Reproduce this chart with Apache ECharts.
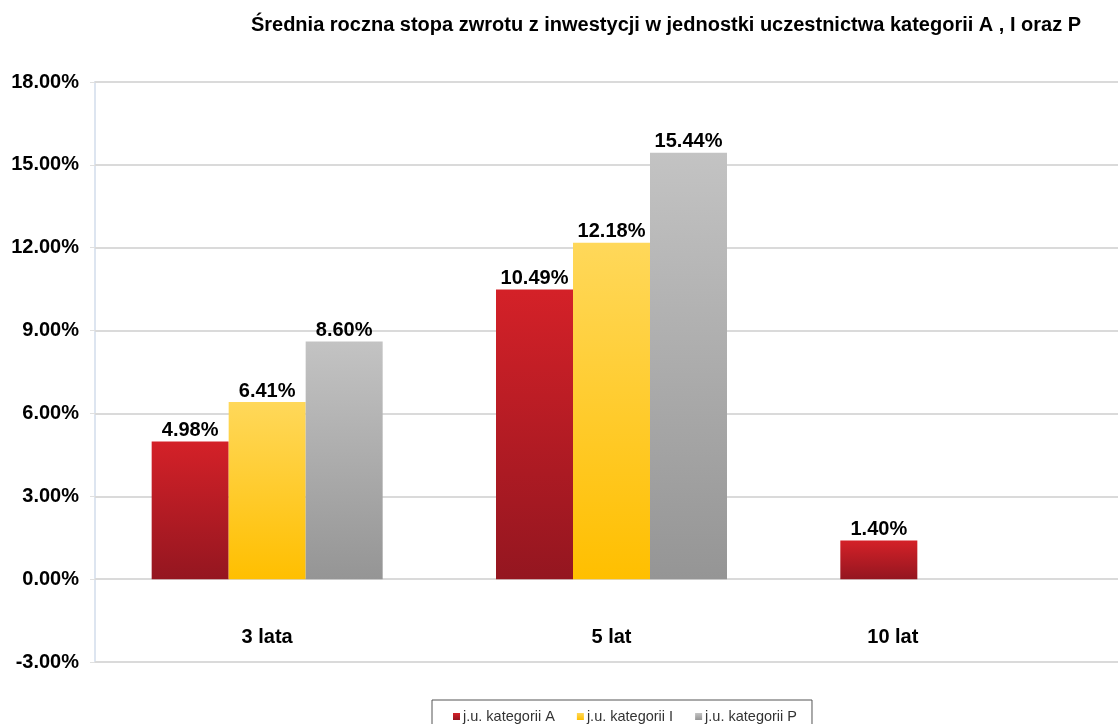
<!DOCTYPE html>
<html>
<head>
<meta charset="utf-8">
<script src="https://cdn.jsdelivr.net/npm/echarts@6/dist/echarts.min.js"></script>
<style>
  html, body { margin: 0; padding: 0; background: #fff; }
  #chart { width: 1118px; height: 724px; }
</style>
</head>
<body>
<div id="chart"></div>
<script>
// ── data ─────────────────────────────────────────────
const categories = ['3 lata', '5 lat', '10 lat']
const seriesNames = ['j.u. kategorii A', 'j.u. kategorii I', 'j.u. kategorii P']
const valuesA = [4.98, 10.49, 1.40]
const valuesI = [6.41, 12.18, null]
const valuesP = [8.60, 15.44, null]

const FONT = '"Liberation Sans", Arial, sans-serif'
const GRAD = [
  ['#d42128', '#941620'],
  ['#ffd85a', '#ffbf00'],
  ['#c3c3c3', '#959595'],
]

const chart = echarts.init(document.getElementById('chart'))

const grad = ([top, bottom]) => new echarts.graphic.LinearGradient(0, 0, 0, 1, [
  { offset: 0, color: top }, { offset: 1, color: bottom },
])

const makeSeries = (name, data, i) => ({
  name, type: 'bar', data,
  barWidth: 77, barGap: '0%',
  itemStyle: { color: grad(GRAD[i]) },
  label: {
    show: true, position: 'top', distance: 1,
    formatter: p => p.value.toFixed(2) + '%',
    color: '#000', fontFamily: FONT, fontWeight: 'bold', fontSize: 20,
  },
})

chart.setOption({
  animation: false,
  title: {
    text: 'Średnia roczna stopa zwrotu z inwestycji w jednostki uczestnictwa kategorii A , I oraz P',
    left: 661, top: 10, textAlign: 'center',
    textStyle: { fontFamily: FONT, fontWeight: 'bold', fontSize: 20, color: '#000' },
  },
  legend: {
    data: seriesNames,
    left: 432, top: 700,
    icon: 'rect', itemWidth: 7, itemHeight: 7, itemGap: 22,
    padding: [9, 15, 10, 21],
    borderColor: '#555', borderWidth: 1,
    textStyle: { fontFamily: FONT, fontSize: 14.5, color: '#333', padding: [0, 0, 0, -2] },
  },
  color: GRAD.map(g => g[0]),
  grid: {
    left: 95, top: 82, width: 1033, height: 580,
    outerBoundsMode: 'none',
    show: true, borderColor: '#dde5f0', borderWidth: 2,
  },
  xAxis: {
    type: 'category',
    data: categories.map((c, i) => i === 2
      ? { value: c, textStyle: { padding: [0, 126, 0, 0] } }
      : c),
    axisLine: { show: false },
    axisTick: { show: false },
    axisLabel: {
      margin: -35, color: '#000', fontFamily: FONT, fontWeight: 'bold', fontSize: 20,
    },
  },
  yAxis: {
    type: 'value', min: -3, max: 18, interval: 3,
    axisLine: { show: false },
    axisTick: { show: true, length: 5, lineStyle: { color: '#e0e0e0' } },
    splitLine: { lineStyle: { color: '#dadada', width: 2 } },
    axisLabel: {
      margin: 16, color: '#000', fontFamily: FONT, fontWeight: 'bold', fontSize: 20,
      formatter: v => v.toFixed(2) + '%',
    },
  },
  series: [
    makeSeries(seriesNames[0], valuesA, 0),
    makeSeries(seriesNames[1], valuesI, 1),
    makeSeries(seriesNames[2], valuesP, 2),
  ],
})
</script>
</body>
</html>
